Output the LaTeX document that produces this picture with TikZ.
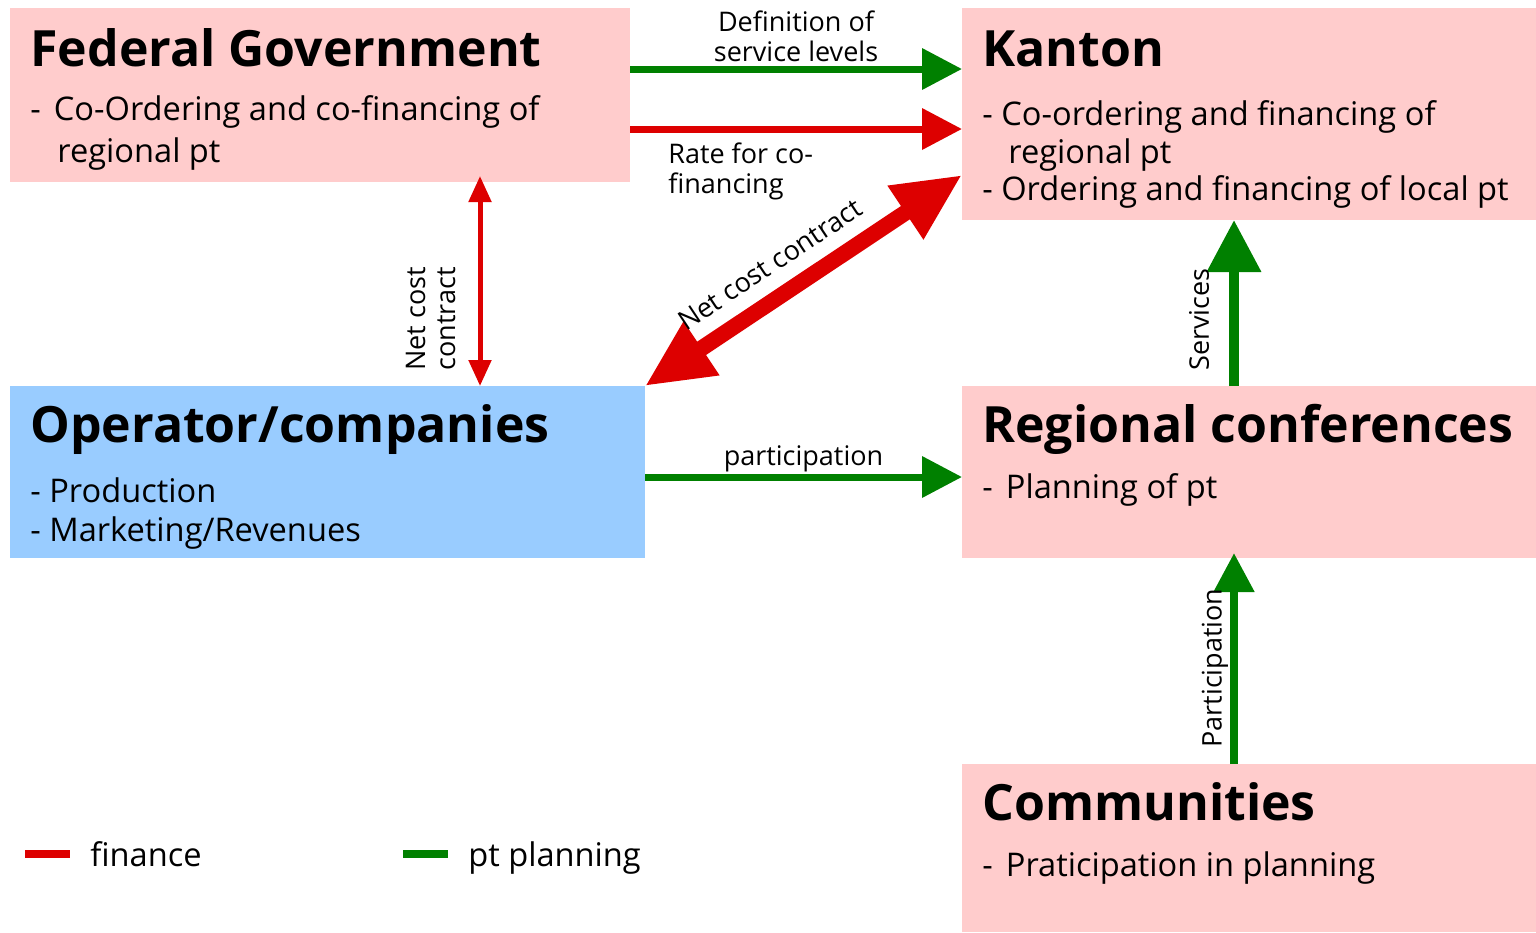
\documentclass[tikz,border=0pt]{standalone}
\usepackage{fontspec}
\setmainfont{Open Sans}
\usetikzlibrary{arrows.meta,calc,positioning}
\definecolor{boxpink}{HTML}{FFCCCC}
\definecolor{boxblue}{HTML}{99CCFF}
\definecolor{finred}{HTML}{DD0000}
\definecolor{plangreen}{HTML}{008000}

\begin{document}
\begin{tikzpicture}[x=0.5pt,y=-0.5pt,
		box/.style={anchor=north west,inner sep=0,outer sep=0},
		title/.style={anchor=base west,inner sep=0,font=\fontsize{25}{29}\selectfont\bfseries},
		body/.style={anchor=base west,inner sep=0,font=\fontsize{16.3}{19}\selectfont},
		lab/.style={text=black,font=\fontsize{13.5}{15}\selectfont},
		finarrow/.style={finred,line width=#1},
		planarrow/.style={plangreen,line width=#1}]
	\useasboundingbox (0,0) rectangle (1536,932);
	% boxes
	\node[box,fill=boxpink,minimum width=310pt,minimum height=87pt] (fed) at (10,8) {};
	\node[box,fill=boxpink,minimum width=287pt,minimum height=106pt] (kan) at (962,8) {};
	\node[box,fill=boxblue,minimum width=317.5pt,minimum height=86pt] (op) at (10,386) {};
	\node[box,fill=boxpink,minimum width=287pt,minimum height=86pt] (reg) at (962,386) {};
	\node[box,fill=boxpink,minimum width=287pt,minimum height=84pt] (com) at (962,764) {};
	% texts
	\node[title] (fedT) at ($(fed.north west)+(20,58)$) {Federal Government};
	\node[body] (fed1) at ($(fed.north west)+(20,112)$) {-\hspace{0.4em}Co-Ordering and co-financing of};
	\node[body] (fed2) at ($(fed.north west)+(47,154)$) {regional pt};
	\node[title] (kanT) at ($(kan.north west)+(20,58)$) {Kanton};
	\node[body] (kan1) at ($(kan.north west)+(20,117)$) {- Co-ordering and financing of};
	\node[body] (kan2) at ($(kan.north west)+(46,155)$) {regional pt};
	\node[body] (kan3) at ($(kan.north west)+(20,192)$) {- Ordering and financing of local pt};
	\node[title] (opT) at ($(op.north west)+(20,56)$) {Operator/companies};
	\node[body] (op1) at ($(op.north west)+(20,116)$) {- Production};
	\node[body] (op2) at ($(op.north west)+(20,155)$) {- Marketing/Revenues};
	\node[title] (regT) at ($(reg.north west)+(20,56)$) {Regional conferences};
	\node[body] (reg1) at ($(reg.north west)+(20,112)$) {-\hspace{0.4em}Planning of pt};
	\node[title] (comT) at ($(com.north west)+(20,56)$) {Communities};
	\node[body] (com1) at ($(com.north west)+(20,112)$) {-\hspace{0.4em}Praticipation in planning};
	% connectors
	\draw[planarrow=3.5pt,-{Triangle[length=20pt,width=20pt]}]
		($(fed.north east)+(0,61)$) -- ($(kan.north west)+(0,61)$)
		node[lab,midway,above,align=center,inner sep=2pt] {Definition of\\service levels};
	\draw[finarrow=3.5pt,-{Triangle[length=20pt,width=20pt]}]
		($(fed.north east)+(0,121)$) -- ($(kan.north west)+(0,121)$)
		node[lab,pos=0.105,anchor=north west,align=left,inner xsep=0,inner ysep=5pt] {Rate for co-\\financing};
	\draw[finarrow=2.5pt,{Triangle[length=13pt,width=11pt]}-{Triangle[length=13pt,width=11pt]}]
		($(fed.south west)+(470,-6)$) -- ($(op.north west)+(470,0)$)
		node[lab,pos=0.68,rotate=90,anchor=south,align=center,inner sep=11pt] {Net cost\\contract};
	\draw[finarrow=8pt,{Triangle[length=34pt,width=30pt]}-{Triangle[length=34pt,width=30pt]}]
		(op.north east) -- ($(kan.south west)+(0,-45)$)
		node[lab,pos=0.45,sloped,above,inner sep=7pt] {Net cost contract};
	\draw[planarrow=3.5pt,-{Triangle[length=20pt,width=20pt]}]
		($(op.north east)+(0,91)$) -- ($(reg.north west)+(0,91)$)
		node[lab,midway,above,inner sep=1pt] {participation};
	\draw[planarrow=5pt,-{Triangle[length=26pt,width=26pt]}]
		($(reg.north west)+(272,0)$) -- ($(kan.south west)+(272,0)$)
		node[lab,pos=0.4,rotate=90,anchor=south,inner sep=10pt] {Services};
	\draw[planarrow=4pt,-{Triangle[length=19.5pt,width=19.5pt]}]
		($(com.north west)+(272,0)$) -- ($(reg.south west)+(272,-5)$)
		node[lab,pos=0.455,rotate=90,anchor=south,inner sep=1pt] {Participation};
	% legend
	\foreach \c/\x/\t/\n in {finred/25/finance/legF,plangreen/403/pt planning/legP}{
		\draw[\c,line width=4pt] (\x,854) -- ++(45,0);
		\node[body] (\n) at (\x+65,866) {\t};
	}
\end{tikzpicture}
\end{document}
